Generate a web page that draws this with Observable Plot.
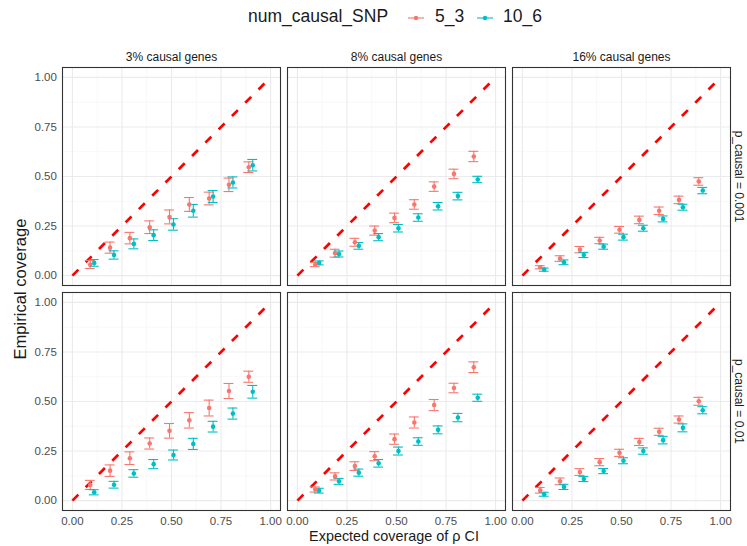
<!DOCTYPE html>
<html>
<head>
<meta charset="utf-8">
<script src="https://cdn.jsdelivr.net/npm/d3@7"></script>
<script src="https://cdn.jsdelivr.net/npm/@observablehq/plot@0.6"></script>
<style>
  html, body { margin: 0; padding: 0; background: white; }
  #root { position: relative; width: 747px; height: 546px; overflow: hidden; font-family: "Liberation Sans", Arial, sans-serif; background: white; }
  #chart { position: absolute; left: 0; top: 36px; }
  .abs { position: absolute; white-space: nowrap; color: #1a1a1a; }
</style>
</head>
<body>
<div id="root">
  <div class="abs" id="legTitle" style="left:248px; top:4px; font-size:17.5px; line-height:24px;">num_causal_SNP</div>
  <svg class="abs" style="left:405px; top:10px;" width="22" height="16"><line x1="3" x2="19" y1="8" y2="8" stroke="#F8766D" stroke-width="1.1"/><circle cx="11" cy="8" r="2.2" fill="#F8766D"/></svg>
  <div class="abs" style="left:435px; top:4px; font-size:17.5px; line-height:24px;">5_3</div>
  <svg class="abs" style="left:474px; top:10px;" width="22" height="16"><line x1="3" x2="19" y1="8" y2="8" stroke="#00BFC4" stroke-width="1.1"/><circle cx="11" cy="8" r="2.2" fill="#00BFC4"/></svg>
  <div class="abs" style="left:503px; top:4px; font-size:17.5px; line-height:24px;">10_6</div>
  <div id="chart"></div>
  <div class="abs" style="left:394px; top:528px; transform:translateX(-50%); font-size:14.4px; line-height:16px;">Expected coverage of ρ CI</div>
  <div class="abs" style="left:21px; top:289px; transform:translate(-50%,-50%) rotate(-90deg); font-size:16.6px; line-height:20px;">Empirical coverage</div>
</div>
<script>
// ---- Data ----
const genes = ["3% causal genes", "8% causal genes", "16% causal genes"];
const pLabels = ["p_causal = 0.001", "p_causal = 0.01"];
const series = ["5_3", "10_6"];
const expected = [0.1, 0.2, 0.3, 0.4, 0.5, 0.6, 0.7, 0.8, 0.9];
const majorTicks = [0, 0.25, 0.5, 0.75, 1];
const minorTicks = [0.125, 0.375, 0.625, 0.875];
const tickLabels = ["0.00", "0.25", "0.50", "0.75", "1.00"];

// p_causal = 0.001
const g3_p001_53  = [0.056, 0.141, 0.189, 0.244, 0.296, 0.359, 0.389, 0.458, 0.547];
const g3_p001_53e = [0.020, 0.028, 0.029, 0.032, 0.035, 0.035, 0.032, 0.034, 0.027];
const g3_p001_106  = [0.064, 0.104, 0.160, 0.204, 0.258, 0.327, 0.399, 0.470, 0.557];
const g3_p001_106e = [0.017, 0.021, 0.025, 0.027, 0.029, 0.032, 0.030, 0.028, 0.029];
const g8_p001_53  = [0.056, 0.113, 0.168, 0.227, 0.291, 0.359, 0.449, 0.513, 0.601];
const g8_p001_53e = [0.011, 0.020, 0.020, 0.023, 0.024, 0.024, 0.024, 0.024, 0.026];
const g8_p001_106  = [0.064, 0.109, 0.150, 0.194, 0.239, 0.293, 0.350, 0.401, 0.485];
const g8_p001_106e = [0.010, 0.015, 0.017, 0.018, 0.019, 0.019, 0.019, 0.019, 0.016];
const g16_p001_53  = [0.042, 0.086, 0.131, 0.177, 0.231, 0.281, 0.327, 0.382, 0.475];
const g16_p001_53e = [0.008, 0.014, 0.016, 0.016, 0.017, 0.019, 0.019, 0.019, 0.019];
const g16_p001_106  = [0.030, 0.067, 0.104, 0.146, 0.194, 0.239, 0.286, 0.345, 0.429];
const g16_p001_106e = [0.008, 0.012, 0.013, 0.013, 0.015, 0.015, 0.015, 0.015, 0.016];
// p_causal = 0.01
const g3_p01_53  = [0.079, 0.151, 0.214, 0.288, 0.352, 0.405, 0.467, 0.553, 0.625];
const g3_p01_53e = [0.023, 0.029, 0.032, 0.028, 0.037, 0.039, 0.040, 0.038, 0.028];
const g3_p01_106  = [0.042, 0.080, 0.137, 0.184, 0.230, 0.286, 0.373, 0.439, 0.549];
const g3_p01_106e = [0.013, 0.017, 0.019, 0.023, 0.025, 0.028, 0.027, 0.028, 0.032];
const g8_p01_53  = [0.056, 0.122, 0.174, 0.224, 0.310, 0.394, 0.482, 0.568, 0.673];
const g8_p01_53e = [0.013, 0.018, 0.022, 0.023, 0.026, 0.028, 0.028, 0.024, 0.027];
const g8_p01_106  = [0.050, 0.097, 0.141, 0.188, 0.250, 0.298, 0.357, 0.419, 0.519];
const g8_p01_106e = [0.012, 0.015, 0.018, 0.019, 0.020, 0.019, 0.020, 0.021, 0.018];
const g16_p01_53  = [0.052, 0.097, 0.144, 0.194, 0.241, 0.296, 0.347, 0.409, 0.501];
const g16_p01_53e = [0.014, 0.017, 0.017, 0.018, 0.018, 0.018, 0.018, 0.018, 0.020];
const g16_p01_106  = [0.032, 0.069, 0.109, 0.149, 0.201, 0.250, 0.305, 0.367, 0.456];
const g16_p01_106e = [0.010, 0.013, 0.013, 0.013, 0.015, 0.016, 0.019, 0.020, 0.018];

const diagonal = [{x: 0, y: 0}, {x: 1, y: 1}];

// ---- Build table ----
const table = [
  [genes[0], pLabels[0], series[0], g3_p001_53, g3_p001_53e],
  [genes[0], pLabels[0], series[1], g3_p001_106, g3_p001_106e],
  [genes[1], pLabels[0], series[0], g8_p001_53, g8_p001_53e],
  [genes[1], pLabels[0], series[1], g8_p001_106, g8_p001_106e],
  [genes[2], pLabels[0], series[0], g16_p001_53, g16_p001_53e],
  [genes[2], pLabels[0], series[1], g16_p001_106, g16_p001_106e],
  [genes[0], pLabels[1], series[0], g3_p01_53, g3_p01_53e],
  [genes[0], pLabels[1], series[1], g3_p01_106, g3_p01_106e],
  [genes[1], pLabels[1], series[0], g8_p01_53, g8_p01_53e],
  [genes[1], pLabels[1], series[1], g8_p01_106, g8_p01_106e],
  [genes[2], pLabels[1], series[0], g16_p01_53, g16_p01_53e],
  [genes[2], pLabels[1], series[1], g16_p01_106, g16_p01_106e]
];
const rows = [];
for (const [gene, p, s, vals, errs] of table) {
  vals.forEach((v, k) => rows.push({gene, p, series: s, x: expected[k], y: v, lo: v - errs[k], hi: v + errs[k]}));
}
const dodge = 0.01, cap = 0.025;
const xd = d => d.x + (d.series === series[0] ? -dodge : dodge);

const chart = Plot.plot({
  width: 747,
  height: 510,
  marginLeft: 62.3,
  marginRight: 16.7,
  marginTop: 31.3,
  marginBottom: 35.7,
  style: {fontFamily: "Liberation Sans, Arial, sans-serif", background: "white"},
  fx: {domain: genes, paddingInner: 7 / 225, paddingOuter: 0, axis: null},
  fy: {domain: pLabels, paddingInner: 7 / 225, paddingOuter: 0, axis: null},
  x: {domain: [-0.05, 1.05]},
  y: {domain: [-0.05, 1.05]},
  color: {domain: series, range: ["#F8766D", "#00BFC4"]},
  marks: [
    Plot.gridX(minorTicks, {stroke: "#f2f2f2", strokeOpacity: 1, strokeWidth: 0.6}),
    Plot.gridY(minorTicks, {stroke: "#f2f2f2", strokeOpacity: 1, strokeWidth: 0.6}),
    Plot.gridX(majorTicks, {stroke: "#ebebeb", strokeOpacity: 1, strokeWidth: 1.1}),
    Plot.gridY(majorTicks, {stroke: "#ebebeb", strokeOpacity: 1, strokeWidth: 1.1}),
    Plot.line(diagonal, {x: "x", y: "y", stroke: "red", strokeWidth: 2.7, strokeDasharray: "8.4,10.4", strokeLinecap: "butt"}),
    Plot.ruleX(rows, {x: xd, y1: "lo", y2: "hi", stroke: "series", strokeWidth: 1.1, fx: "gene", fy: "p"}),
    Plot.ruleY(rows, {y: "lo", x1: d => xd(d) - cap, x2: d => xd(d) + cap, stroke: "series", strokeWidth: 1.1, fx: "gene", fy: "p"}),
    Plot.ruleY(rows, {y: "hi", x1: d => xd(d) - cap, x2: d => xd(d) + cap, stroke: "series", strokeWidth: 1.1, fx: "gene", fy: "p"}),
    Plot.dot(rows, {x: xd, y: "y", fill: "series", r: 2.3, fx: "gene", fy: "p"}),
    Plot.frame({stroke: "#333333", strokeWidth: 1.1}),
    Plot.axisX({ticks: majorTicks, tickFormat: (d, i) => tickLabels[majorTicks.indexOf(d)], tickSize: 0, tickPadding: 6.5, fontSize: 11.5, color: "#4d4d4d", label: null, facetAnchor: "bottom"}),
    Plot.axisY({ticks: majorTicks, tickFormat: (d, i) => tickLabels[majorTicks.indexOf(d)], tickSize: 0, tickPadding: 5.6, fontSize: 11.5, color: "#4d4d4d", label: null, facetAnchor: "left"}),
    Plot.text(genes, {fx: d => d, fy: () => pLabels[0], text: d => d, frameAnchor: "top", lineAnchor: "middle", dy: -10, fontSize: 12, fill: "#1a1a1a"}),
    Plot.text(pLabels, {fy: d => d, fx: () => genes[2], text: d => d, frameAnchor: "right", textAnchor: "middle", lineAnchor: "middle", rotate: 90, dx: 8, fontSize: 12, fill: "#1a1a1a"})
  ]
});
document.getElementById("chart").appendChild(chart);
</script>
</body>
</html>
